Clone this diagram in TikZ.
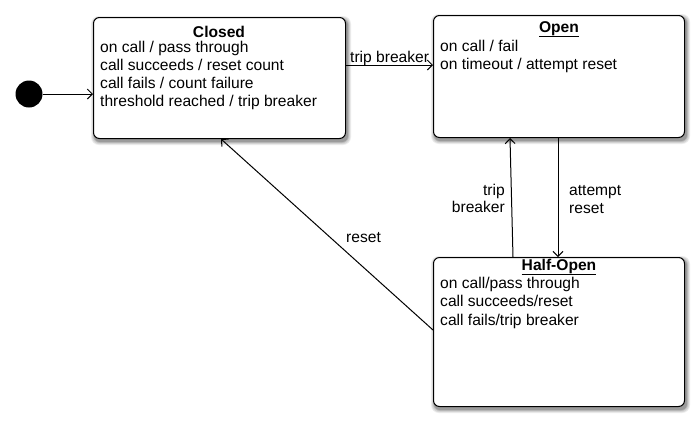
\documentclass[tikz,border=0pt]{standalone}
\usepackage{fontspec}
\setmainfont{Liberation Sans}
\usetikzlibrary{arrows.meta,calc}
\definecolor{shdA}{RGB}{236,236,236}
\definecolor{shdB}{RGB}{214,214,214}
\definecolor{shdC}{RGB}{186,186,186}
\definecolor{shdD}{RGB}{155,155,155}
\begin{document}
\begin{tikzpicture}[x=1pt,y=-1pt,
  statebox/.style={draw, line width=1pt, rounded corners=6pt, fill=white, anchor=north west, inner sep=0pt},
  title/.style={font=\fontsize{15.6}{18}\selectfont\bfseries, inner sep=0pt, anchor=base},
  line/.style={font=\fontsize{15.6}{18.5}\selectfont, inner sep=0pt, anchor=base west},
  lbl/.style={font=\fontsize{15.6}{18.5}\selectfont, inner sep=0pt},
  conn/.style={line width=1pt, -{Straight Barb[length=5pt,width=10pt]}}]
\path[fill=white] (0,0) rectangle (699,424);
\useasboundingbox (0,0) rectangle (699,424);
% shadows
\fill[rounded corners=8pt, shdA] (91,16) rectangle (351,145);
\fill[rounded corners=7pt, shdB] (92,17) rectangle (350,144);
\fill[rounded corners=7pt, shdC] (93,18) rectangle (349,143);
\fill[rounded corners=6pt, shdD] (94,19) rectangle (348,142);
\fill[rounded corners=8pt, shdA] (431,14) rectangle (690,144);
\fill[rounded corners=7pt, shdB] (432,15) rectangle (689,143);
\fill[rounded corners=7pt, shdC] (433,16) rectangle (688,142);
\fill[rounded corners=6pt, shdD] (434,17) rectangle (687,141);
\fill[rounded corners=8pt, shdA] (431,256) rectangle (690,413);
\fill[rounded corners=7pt, shdB] (432,257) rectangle (689,412);
\fill[rounded corners=7pt, shdC] (433,258) rectangle (688,411);
\fill[rounded corners=6pt, shdD] (434,259) rectangle (687,410);
% boxes
\node[statebox, minimum width=252pt, minimum height=121pt] (closed) at (93,17) {};
\node[statebox, minimum width=251pt, minimum height=122pt] (open) at (433,15) {};
\node[statebox, minimum width=251pt, minimum height=149pt] (half) at (433,257) {};
% titles
\node[title] (tclosed) at (219,37) {Closed};
\node[title] (topen) at (559,32) {\underline{Open}};
\node[title] (thalf) at (559,270) {\underline{Half-Open}};
% Closed body
\node[line] (c1l) at (100,52) {on call / pass through};
\node[line] (c2l) at (100,70) {call succeeds / reset count};
\node[line] (c3l) at (100,88) {call fails / count failure};
\node[line] (c4l) at (100,106) {threshold reached / trip breaker};
% Open body
\node[line] (o1l) at (440,51) {on call / fail};
\node[line] (o2l) at (440,69) {on timeout / attempt reset};
% Half-Open body
\node[line] (h1l) at (440,288) {on call/pass through};
\node[line] (h2l) at (440,306.5) {call succeeds/reset};
\node[line] (h3l) at (440,325) {call fails/trip breaker};
% initial
\node[circle, fill=black, minimum size=27pt, inner sep=0pt] (init) at (29,94) {};
\coordinate (cl) at (93,94);
\draw[conn] (init) -- (cl);
% trip breaker closed -> open
\coordinate (ca) at (345,65);
\coordinate (oa) at (433,65);
\draw[conn] (ca) -- (oa);
\node[lbl, anchor=base west] (ltb) at (350,62) {trip breaker};
% open -> half
\coordinate (ob) at (558,137);
\coordinate (hb) at (558,257);
\draw[conn] (ob) -- (hb);
\node[lbl, anchor=base west] (lat) at (569,195) {attempt};
\node[lbl, anchor=base west] (lrs) at (569,213) {reset};
% half -> open
\coordinate (hc) at (513,257);
\coordinate (oc) at (510,138);
\draw[conn] (hc) -- (oc);
\node[lbl, anchor=base east] (ltr) at (505,195) {trip};
\node[lbl, anchor=base east] (lbr) at (505,212) {breaker};
% reset half -> closed
\coordinate (hd) at (433,330);
\coordinate (cd) at (221,139);
\draw[conn] (hd) -- (cd);
\node[lbl, anchor=base west] (lreset) at (346,242) {reset};
\end{tikzpicture}
\end{document}
